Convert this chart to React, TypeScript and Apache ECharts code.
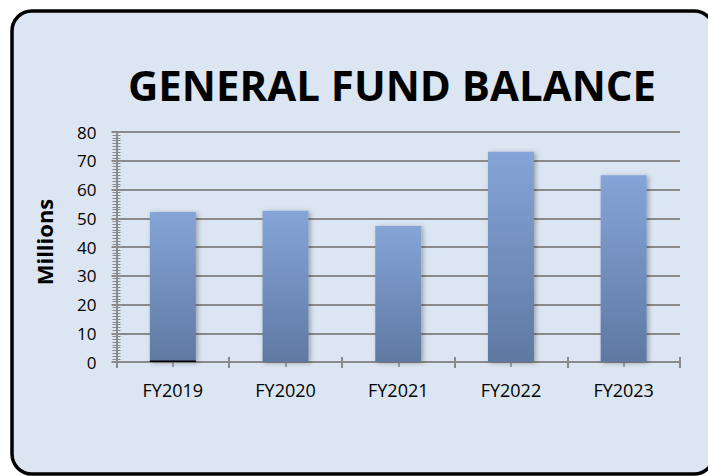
import React, { useEffect, useRef } from "react";
import * as echarts from "echarts";

const categories = ["FY2019", "FY2020", "FY2021", "FY2022", "FY2023"];
const balances = [52.2, 52.6, 47.3, 73.1, 65.0];
const baseMark = [0.5, 0, 0, 0, 0];
const titleText = "GENERAL FUND BALANCE";
const yAxisTitle = "Millions";

export default function App() {
  const ref = useRef<HTMLDivElement>(null);
  useEffect(() => {
    const chart = echarts.init(ref.current!, null, { renderer: "svg" });
    const font = "'Open Sans', sans-serif";
    const gridColor = "#8a8a8a";
    const commonX = {
      type: "category" as const,
      data: categories,
      position: "bottom" as const,
      boundaryGap: true,
    };
    chart.setOption({
      animation: false,
      backgroundColor: "#ffffff",
      graphic: [
        {
          type: "rect",
          shape: { x: 12, y: 11, width: 702, height: 463, r: 20 },
          style: { fill: "#dce6f2", stroke: "#000000", lineWidth: 3.5 },
          z: -10,
        },
        {
          type: "text",
          x: 392,
          y: 84,
          style: {
            text: titleText,
            font: "bold 42px " + font,
            fill: "#000000",
            textAlign: "center",
            textVerticalAlign: "middle",
          },
        },
        {
          type: "text",
          x: 44,
          y: 242,
          rotation: Math.PI / 2,
          style: {
            text: yAxisTitle,
            font: "bold 22px " + font,
            fill: "#000000",
            textAlign: "center",
            textVerticalAlign: "middle",
          },
        },
      ],
      grid: { left: 116.5, right: 28, top: 132, bottom: 114 },
      xAxis: [
        {
          ...commonX,
          axisLine: { show: true, lineStyle: { color: gridColor, width: 2 } },
          axisTick: { show: true, length: 6, lineStyle: { color: gridColor, width: 2 } },
          axisLabel: { margin: 19, fontSize: 18, color: "#000", fontFamily: font },
        },
        {
          ...commonX,
          axisLine: { show: false },
          axisTick: { show: true, inside: true, length: 5, lineStyle: { color: gridColor, width: 2 } },
          axisLabel: { show: false },
        },
        {
          ...commonX,
          axisLine: { show: false },
          axisTick: { show: true, alignWithLabel: true, length: 5, lineStyle: { color: gridColor, width: 1.5 } },
          axisLabel: { show: false },
        },
      ],
      yAxis: [
        {
          type: "value",
          min: 0,
          max: 80,
          interval: 10,
          axisLine: { show: true, lineStyle: { color: gridColor, width: 2 } },
          axisTick: { show: true, length: 5, lineStyle: { color: gridColor, width: 2 } },
          minorTick: { show: true, splitNumber: 10, length: 4, lineStyle: { color: gridColor, width: 1 } },
          splitLine: { show: true, lineStyle: { color: gridColor, width: 2 } },
          axisLabel: { margin: 20, fontSize: 17, color: "#000", fontFamily: font },
        },
        {
          type: "value",
          min: 0,
          max: 80,
          interval: 10,
          position: "left",
          axisLine: { show: false },
          axisTick: { show: true, inside: true, length: 5, lineStyle: { color: gridColor, width: 2 } },
          minorTick: { show: true, splitNumber: 10, length: 4, lineStyle: { color: gridColor, width: 1 } },
          splitLine: { show: false },
          axisLabel: { show: false },
        },
      ],
      series: [
        {
          type: "bar",
          data: balances,
          barWidth: 46,
          barGap: "-100%",
          itemStyle: {
            color: new echarts.graphic.LinearGradient(0, 0, 0, 1, [
              { offset: 0, color: "#85a4d7" },
              { offset: 1, color: "#5f79a3" },
            ]),
            shadowBlur: 5,
            shadowColor: "rgba(0,0,0,0.3)",
            shadowOffsetX: 2,
            shadowOffsetY: 1,
          },
        },
        {
          type: "bar",
          data: baseMark,
          barWidth: 46,
          barGap: "-100%",
          itemStyle: { color: "#000000" },
        },
      ],
    });
    return () => chart.dispose();
  }, []);
  return <div ref={ref} style={{ width: 708, height: 476, position: "fixed", left: 0, top: 0 }} />;
}
